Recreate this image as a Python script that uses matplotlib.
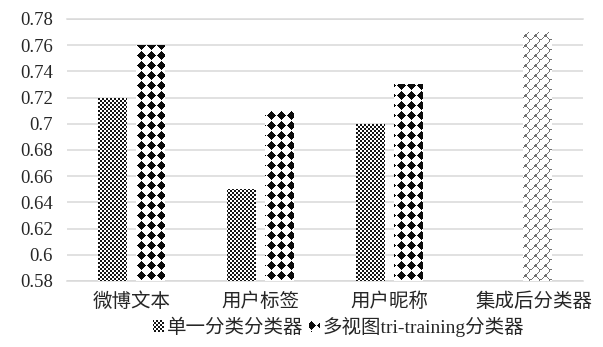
import numpy as np
import matplotlib
matplotlib.use('Agg')
import matplotlib.pyplot as plt
from matplotlib.patches import Patch
from matplotlib.ticker import FuncFormatter
from matplotlib.transforms import ScaledTranslation

# ---------------- data ----------------
categories = ['微博文本', '用户标签', '用户昵称', '集成后分类器']
single_clf = [0.72, 0.65, 0.70, np.nan]          # 单一分类分类器
multi_view = [0.76, 0.71, 0.73, 0.77]            # 多视图tri-training分类器 (last one = 集成后分类器)
series_names = ['单一分类分类器', '多视图tri-training分类器']
y_ticks = [0.58, 0.60, 0.62, 0.64, 0.66, 0.68, 0.70, 0.72, 0.74, 0.76, 0.78]

# ---------------- style ----------------
W, H = 603, 347
FONT = ['Liberation Serif', 'Noto Sans CJK SC']
plt.rcParams['font.family'] = FONT
TXT = '#262626'
GRID = '#d9d9d9'

fig = plt.figure(figsize=(W / 100, H / 100), dpi=100)
ax = fig.add_axes([67 / W, 1 - 281 / H, (583 - 67) / W, (281 - 19) / H])
ax.set_xlim(-0.5, len(categories) - 0.5)
ax.set_ylim(y_ticks[0], y_ticks[-1])

x = np.arange(len(categories))
bw, off = 0.225, 0.148
base = y_ticks[0]
s1 = np.array(single_clf) - base
s2 = np.array(multi_view) - base
bars1 = ax.bar(x - off, s1, bw, bottom=base, color='none', edgecolor='none', zorder=2)
bars2 = ax.bar(x + off, s2, bw, bottom=base, color='none', edgecolor='none', zorder=2)


# ---------------- pixel patterns ----------------
def pat_checker(px, py):
    return ((px // 2 + py // 2) % 2) == 0


def pat_diamond(px, py):
    u = ((px - 1 + 5) % 10) - 5
    v = ((py - 5 + 5) % 10) - 5
    return (np.abs(u) + np.abs(v)) <= 4


BRICK = np.array([
    [0, 0, 0, 0, 0, 0, 0, 1],
    [0, 0, 0, 0, 0, 0, 1, 0],
    [0, 0, 0, 0, 0, 1, 0, 0],
    [0, 0, 0, 0, 1, 0, 0, 0],
    [0, 0, 0, 1, 1, 0, 0, 0],
    [0, 0, 1, 0, 0, 1, 0, 0],
    [0, 1, 0, 0, 0, 0, 1, 0],
    [1, 0, 0, 0, 0, 0, 0, 1]], dtype=bool)


def pat_brick(px, py):
    i = (np.floor(py * 0.8).astype(int)) % 8
    j = (np.floor(px * 0.8).astype(int)) % 8
    return BRICK[i, j]


def make_img(x0, x1, ytop, ybot, fn, fg):
    px = np.arange(int(round(x0)), int(round(x1)))
    py = np.arange(int(round(ytop)), int(round(ybot)))
    PX, PY = np.meshgrid(px, py)
    m = fn(PX, PY)
    img = np.ones(m.shape + (3,))
    img[m] = fg
    return img


def place(bb, fn, fg, z):
    img = make_img(bb.x0, bb.x1, H - bb.y1, H - bb.y0, fn, fg)
    fig.figimage(img, xo=int(round(bb.x0)), yo=int(round(bb.y0)), origin='upper', zorder=z)


def fill_bar(patch, fn, fg):
    if not np.isfinite(patch.get_height()):
        return
    place(patch.get_window_extent(), fn, fg, 2)


for p in bars1:
    fill_bar(p, pat_checker, (0.08, 0.08, 0.08))
for i, p in enumerate(bars2):
    if i == len(bars2) - 1:
        fill_bar(p, pat_brick, (0.45, 0.45, 0.45))
    else:
        fill_bar(p, pat_diamond, (0.05, 0.05, 0.05))

# ---------------- axes ----------------
for s in ax.spines.values():
    s.set_visible(False)
ax.set_yticks(y_ticks)
ax.yaxis.set_major_formatter(FuncFormatter(lambda v, _: f'{v:.2f}'.rstrip('0')))
ax.set_xticks(x)
ax.set_xticklabels(categories)
ax.tick_params(axis='y', length=0, pad=10, labelsize=13.5, labelcolor=TXT)
ax.tick_params(axis='x', length=0, pad=8, labelsize=14, labelcolor=TXT)
ax.yaxis.grid(True, color=GRID, lw=1.1, zorder=0)
ax.set_axisbelow(True)
ax.axhline(y_ticks[0], color=GRID, lw=1.1, clip_on=False, zorder=1)
ax.axhline(y_ticks[-1], color=GRID, lw=1.1, clip_on=False, zorder=1)

# last category label sits a bit to the right in the reference
lbl = ax.get_xticklabels()[-1]
lbl.set_transform(lbl.get_transform() + ScaledTranslation(15 / 100, 0, fig.dpi_scale_trans))

# ---------------- legend ----------------
handles = [Patch(facecolor='none', edgecolor='none'), Patch(facecolor='none', edgecolor='none')]
leg = fig.legend(handles, series_names, loc='center', bbox_to_anchor=(339 / W, 1 - 327 / H),
                 ncol=2, frameon=False, handlelength=0.55, handleheight=0.6,
                 handletextpad=0.15, columnspacing=0.3, borderaxespad=0, borderpad=0,
                 prop={'family': FONT, 'size': 14})
for t in leg.get_texts():
    t.set_color(TXT)

fig.canvas.draw()
leg_fns = [(pat_checker, (0.08, 0.08, 0.08)), (pat_diamond, (0.05, 0.05, 0.05))]
for h, (fn, fg) in zip(leg.legend_handles, leg_fns):
    place(h.get_window_extent(), fn, fg, 10)

fig.savefig('out.png', dpi=100)
